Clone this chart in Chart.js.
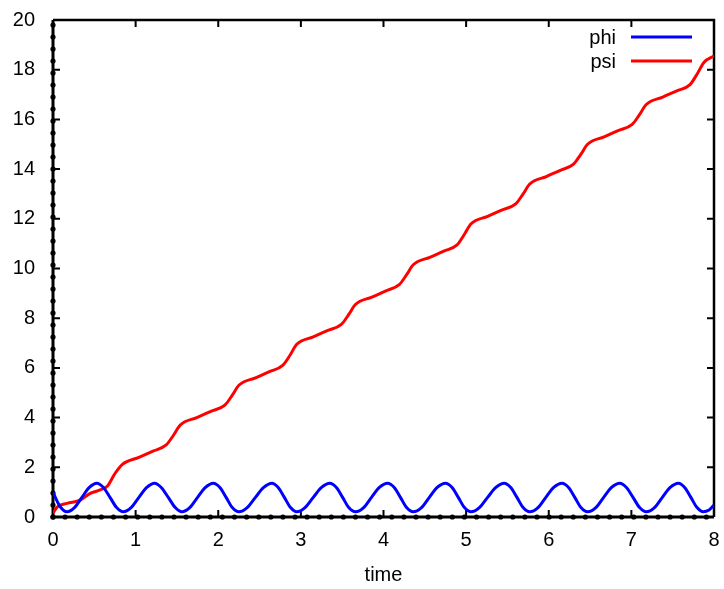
<!DOCTYPE html>
<html>
<head>
<meta charset="utf-8">
<script src="https://cdn.jsdelivr.net/npm/chart.js@4.4.1/dist/chart.umd.min.js"></script>
<style>
  html, body { margin: 0; padding: 0; background: #ffffff; }
  #wrap { width: 724px; height: 589px; }
</style>
</head>
<body>
<div id="wrap"><canvas id="c" width="724" height="589"></canvas></div>
<script>
// ---- data ----
const xTickLabels = ["0","1","2","3","4","5","6","7","8"];
const yTickLabels = ["0","2","4","6","8","10","12","14","16","18","20"];

const phiTime = [0, 0.08, 0.17, 0.26, 0.35, 0.44, 0.53, 0.61, 0.69, 0.77, 0.85, 0.945, 1.04, 1.135, 1.23, 1.31, 1.395, 1.48, 1.56, 1.655, 1.75, 1.845, 1.94, 2.02, 2.095, 2.17, 2.25, 2.35, 2.45, 2.55, 2.65, 2.725, 2.80, 2.875, 2.95, 3.05, 3.15, 3.25, 3.35, 3.43, 3.505, 3.58, 3.66, 3.76, 3.855, 3.95, 4.05, 4.13, 4.205, 4.28, 4.36, 4.46, 4.555, 4.65, 4.75, 4.83, 4.905, 4.98, 5.06, 5.16, 5.26, 5.36, 5.46, 5.54, 5.615, 5.69, 5.77, 5.87, 5.965, 6.06, 6.16, 6.24, 6.315, 6.39, 6.47, 6.57, 6.665, 6.76, 6.86, 6.94, 7.02, 7.10, 7.18, 7.28, 7.375, 7.47, 7.57, 7.645, 7.72, 7.795, 7.87, 7.94, 8.0];
const phiValues = [1.0, 0.45, 0.21, 0.38, 0.79, 1.19, 1.36, 1.19, 0.79, 0.38, 0.21, 0.38, 0.79, 1.19, 1.36, 1.19, 0.79, 0.38, 0.21, 0.38, 0.79, 1.19, 1.36, 1.19, 0.79, 0.38, 0.21, 0.38, 0.79, 1.19, 1.36, 1.19, 0.79, 0.38, 0.21, 0.38, 0.79, 1.19, 1.36, 1.19, 0.79, 0.38, 0.21, 0.38, 0.79, 1.19, 1.36, 1.19, 0.79, 0.38, 0.21, 0.38, 0.79, 1.19, 1.36, 1.19, 0.79, 0.38, 0.21, 0.38, 0.79, 1.19, 1.36, 1.19, 0.79, 0.38, 0.21, 0.38, 0.79, 1.19, 1.36, 1.19, 0.79, 0.38, 0.21, 0.38, 0.79, 1.19, 1.36, 1.19, 0.79, 0.38, 0.21, 0.38, 0.79, 1.19, 1.36, 1.19, 0.79, 0.38, 0.21, 0.28, 0.48];

const psiTime = [0, 0.05, 0.17, 0.33, 0.45, 0.57, 0.66, 0.75, 0.84, 1.04, 1.21, 1.37, 1.46, 1.54, 1.74, 1.91, 2.08, 2.17, 2.25, 2.45, 2.62, 2.78, 2.87, 2.95, 3.15, 3.32, 3.49, 3.58, 3.66, 3.86, 4.03, 4.19, 4.28, 4.36, 4.56, 4.73, 4.89, 4.98, 5.06, 5.26, 5.43, 5.60, 5.69, 5.77, 5.97, 6.14, 6.30, 6.39, 6.47, 6.67, 6.84, 7.01, 7.10, 7.18, 7.38, 7.55, 7.71, 7.80, 7.88, 8.0];
const psiValues = [0.15, 0.4, 0.55, 0.68, 0.95, 1.09, 1.25, 1.75, 2.12, 2.4, 2.65, 2.9, 3.3, 3.7, 4.0, 4.25, 4.5, 4.9, 5.3, 5.6, 5.85, 6.1, 6.52, 6.95, 7.25, 7.5, 7.75, 8.15, 8.55, 8.85, 9.1, 9.35, 9.75, 10.15, 10.45, 10.7, 10.95, 11.38, 11.8, 12.1, 12.35, 12.6, 13.0, 13.4, 13.7, 13.95, 14.2, 14.6, 15.0, 15.3, 15.55, 15.8, 16.2, 16.6, 16.9, 17.15, 17.4, 17.85, 18.3, 18.55];

const seriesNames = ["phi", "psi"];
const seriesColors = ["#0000ff", "#ff0000"];
const xTitle = "time";

// ---- chart ----
const FONT = "'Liberation Sans', Arial, sans-serif";
const FS = 20;

const frame = {
  id: 'frame',
  beforeDatasetsDraw(chart) {
    const ctx = chart.ctx, a = chart.chartArea;
    const xs = chart.scales.x, ys = chart.scales.y;
    ctx.save();
    ctx.strokeStyle = '#000'; ctx.fillStyle = '#000';
    ctx.lineWidth = 2.5;
    ctx.beginPath();
    ctx.moveTo(a.left, a.top); ctx.lineTo(a.right, a.top); ctx.lineTo(a.right, a.bottom);
    ctx.stroke();
    ctx.lineWidth = 2;
    const tl = 7;
    xs.ticks.forEach(t => {
      const px = xs.getPixelForValue(t.value);
      if (px <= a.left + 1 || px >= a.right - 1) return;
      ctx.beginPath();
      ctx.moveTo(px, a.bottom); ctx.lineTo(px, a.bottom - tl);
      ctx.moveTo(px, a.top); ctx.lineTo(px, a.top + tl);
      ctx.stroke();
    });
    ys.ticks.forEach(t => {
      const py = ys.getPixelForValue(t.value);
      if (py <= a.top + 1 || py >= a.bottom - 1) return;
      ctx.beginPath();
      ctx.moveTo(a.left, py); ctx.lineTo(a.left + tl, py);
      ctx.moveTo(a.right, py); ctx.lineTo(a.right - tl, py);
      ctx.stroke();
    });
    ctx.lineWidth = 3;
    ctx.beginPath();
    ctx.moveTo(a.left, a.top); ctx.lineTo(a.left, a.bottom); ctx.lineTo(a.right, a.bottom);
    ctx.stroke();
    for (let x = a.left; x <= a.right + 0.5; x += 12.1) {
      ctx.beginPath(); ctx.arc(x, a.bottom, 2.6, 0, Math.PI * 2); ctx.fill();
    }
    for (let y = a.bottom; y >= a.top - 0.5; y -= 12) {
      ctx.beginPath(); ctx.arc(a.left, y, 2.6, 0, Math.PI * 2); ctx.fill();
    }
    ctx.restore();
  },
  afterDraw(chart) {
    const ctx = chart.ctx;
    ctx.save();
    ctx.font = FS + "px " + FONT;
    ctx.textAlign = 'right';
    ctx.textBaseline = 'middle';
    chart.data.datasets.forEach((ds, i) => {
      const y = 37 + i * 24;
      ctx.fillStyle = '#000';
      ctx.fillText(ds.label, 616, y + 1);
      ctx.strokeStyle = ds.borderColor;
      ctx.lineWidth = 3;
      ctx.beginPath(); ctx.moveTo(631, y); ctx.lineTo(692, y); ctx.stroke();
    });
    ctx.restore();
  }
};

function zeroPad(s) { s.paddingLeft = 0; s.paddingRight = 0; s.paddingTop = 0; s.paddingBottom = 0; }

new Chart(document.getElementById('c'), {
  type: 'line',
  data: {
    datasets: [
      {
        label: seriesNames[0],
        data: phiTime.map((t, i) => ({ x: t, y: phiValues[i] })),
        borderColor: seriesColors[0], borderWidth: 3, pointRadius: 0,
        cubicInterpolationMode: 'monotone', fill: false
      },
      {
        label: seriesNames[1],
        data: psiTime.map((t, i) => ({ x: t, y: psiValues[i] })),
        borderColor: seriesColors[1], borderWidth: 3, pointRadius: 0,
        cubicInterpolationMode: 'monotone', fill: false
      }
    ]
  },
  options: {
    responsive: false,
    animation: false,
    devicePixelRatio: 1,
    layout: { padding: { top: 20, right: 10, left: 0, bottom: 0 } },
    plugins: { legend: { display: false }, tooltip: { enabled: false } },
    scales: {
      x: {
        type: 'linear', min: 0, max: 8,
        afterFit: s => { s.height = 72; zeroPad(s); },
        afterBuildTicks: s => { s.ticks = xTickLabels.map(v => ({ value: Number(v) })); },
        ticks: { color: '#000', font: { size: FS, family: FONT }, padding: 11, maxRotation: 0,
                 callback: v => String(v) },
        grid: { display: false, drawTicks: false },
        border: { display: false },
        title: { display: true, text: xTitle, color: '#000', font: { size: FS, family: FONT },
                 padding: { top: 0, bottom: 2 } }
      },
      y: {
        type: 'linear', min: 0, max: 20,
        afterFit: s => { s.width = 53; zeroPad(s); },
        afterBuildTicks: s => { s.ticks = yTickLabels.map(v => ({ value: Number(v) })); },
        ticks: { color: '#000', font: { size: FS, family: FONT }, padding: 18,
                 callback: v => String(v) },
        grid: { display: false, drawTicks: false },
        border: { display: false }
      }
    }
  },
  plugins: [frame]
});
</script>
</body>
</html>
